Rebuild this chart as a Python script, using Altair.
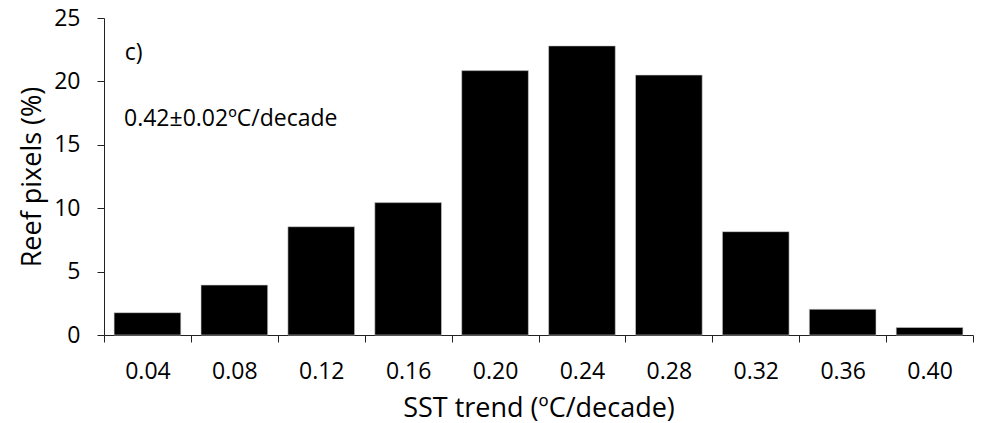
import altair as alt
import pandas as pd

# SST trend bin centres (ºC/decade) and share of reef pixels (%)
trend = [0.04, 0.08, 0.12, 0.16, 0.20, 0.24, 0.28, 0.32, 0.36, 0.40]
pixels = [1.76, 3.94, 8.54, 10.44, 20.85, 22.80, 20.50, 8.15, 2.03, 0.60]
# bin edges where the x-axis ticks sit
edges = [0.02, 0.06, 0.10, 0.14, 0.18, 0.22, 0.26, 0.30, 0.34, 0.38, 0.42]
y_ticks = [0, 5, 10, 15, 20, 25]

# annotations (data coordinates)
ann_text = ["c)", "0.42±0.02ºC/decade"]
ann_x = [0.0295, 0.0292]
ann_y = [21.7, 16.5]

FONT = "Open Sans"
W, H = 869, 317

df = pd.DataFrame({"trend": trend, "pixels": pixels})
ann = pd.DataFrame({"text": ann_text, "x": ann_x, "y": ann_y})

xscale = alt.Scale(domain=[0.02, 0.42], nice=False, zero=False)
yscale = alt.Scale(domain=[0, 25], nice=False)

bars = alt.Chart(df).transform_calculate(
    lo="datum.trend - 0.01535", hi="datum.trend + 0.01535"
).mark_bar(color="black", stroke="#d0d0d0", strokeWidth=0.6).encode(
    x=alt.X("lo:Q", scale=xscale, axis=alt.Axis(
        title="SST trend (ºC/decade)",
        values=edges,
        labelExpr="datum.value > 0.41 ? '' : format(datum.value + 0.02, '.2f')",
        labelOffset=W / 20,
        labelFlush=False,
        labelOverlap=False,
        labelBound=False,
        labelBaseline="alphabetic",
        labelPadding=36,
        tickSize=7,
        grid=False,
        titleX=W / 2,
        titleY=81,
        titleBaseline="alphabetic",
    )),
    x2="hi:Q",
    y=alt.Y("pixels:Q", scale=yscale, axis=alt.Axis(
        title="Reef pixels (%)",
        values=y_ticks,
        tickSize=7,
        labelPadding=17,
        grid=False,
        titleX=-72,
        titleY=H / 2,
        titleBaseline="middle",
    )),
    y2=alt.datum(0),
)

text = alt.Chart(ann).mark_text(
    align="left", baseline="alphabetic", font=FONT, fontSize=23, color="black"
).encode(
    x=alt.X("x:Q", scale=xscale),
    y=alt.Y("y:Q", scale=yscale),
    text="text:N",
)

chart = alt.layer(bars, text).properties(
    width=W,
    height=H,
    padding={"left": 104, "top": 18, "right": 19, "bottom": 88},
    autosize=alt.AutoSizeParams(type="none"),
).configure_view(stroke=None).configure_axis(
    domainColor="#222222",
    tickColor="#222222",
    labelColor="black",
    titleColor="black",
    labelFont=FONT,
    titleFont=FONT,
    labelFontSize=23,
    titleFontSize=27,
    titleFontWeight="normal",
)

chart.save("out.html", embed_options={"renderer": "svg", "actions": False})
